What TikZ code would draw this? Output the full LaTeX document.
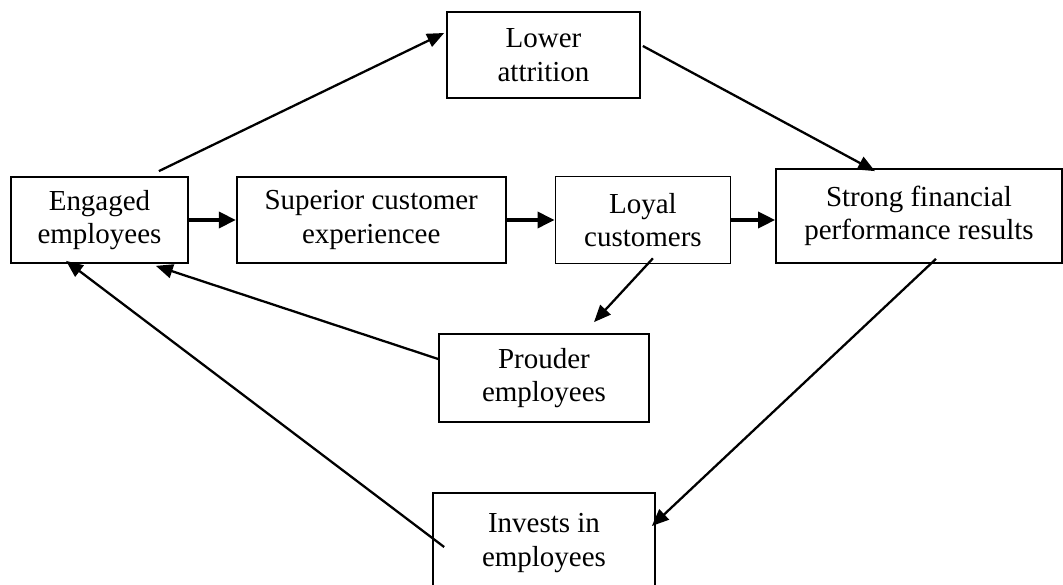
\documentclass[tikz,border=0pt]{standalone}
\usepackage{fontspec}
\setmainfont{Liberation Serif}
\usetikzlibrary{arrows.meta, positioning, calc}

\begin{document}
\begin{tikzpicture}[
    x=0.02cm, y=0.02cm,
    box/.style={rectangle, draw, line width=1pt, align=center, inner sep=0pt, font=\fontsize{16.5}{19.2}\selectfont},
    arr/.style={-{Triangle[length=0.34cm, width=0.28cm]}, line width=1.3pt},
    flow/.style={-{Triangle[length=0.34cm, width=0.32cm]}, line width=2pt},
]
\useasboundingbox (0,0) rectangle (1063,585);
\node[box, minimum width=3.54cm, minimum height=1.72cm] (engaged) at (99.5,365) {Engaged\\employees};
\node[box, minimum width=5.38cm, minimum height=1.72cm, right=0.94cm of engaged] (superior) {Superior customer\\experiencee};
\node[box, minimum width=3.5cm, minimum height=1.74cm, right=0.96cm of superior] (loyal) {Loyal\\customers};
\node[box, minimum width=5.72cm, minimum height=1.88cm] (strong) at (919,369) {Strong financial\\performance results};
\node[box, minimum width=3.86cm, minimum height=1.72cm] (lower) at (543.5,530) {Lower\\attrition};
\node[box, minimum width=4.2cm, minimum height=1.76cm] (prouder) at (544,207) {Prouder\\employees};
\node[box, minimum width=4.44cm, minimum height=2cm] (invests) at (544,42) {Invests in\\employees};

\draw[flow] (engaged) -- (superior);
\draw[flow] (superior) -- (loyal);
\draw[flow] (loyal.east) -- (loyal.east -| strong.west);
\draw[arr] ([shift={(-30,5)}]engaged.north east) -- ([shift={(-2,22)}]lower.west);
\draw[arr] ([shift={(2,9)}]lower.east) -- ([shift={(-44,-3)}]strong.north);
\draw[arr] ([shift={(10,6)}]loyal.south) -- ([shift={(50,11)}]prouder.north);
\draw[arr] ([shift={(0,19)}]prouder.west) -- ([shift={(-33,-2)}]engaged.south east);
\draw[arr] ([shift={(17,5)}]strong.south) -- ([shift={(-4,17)}]invests.east);
\draw[arr] ([shift={(12,-4)}]invests.west) -- ([shift={(-33.5,3)}]engaged.south);
\end{tikzpicture}
\end{document}
